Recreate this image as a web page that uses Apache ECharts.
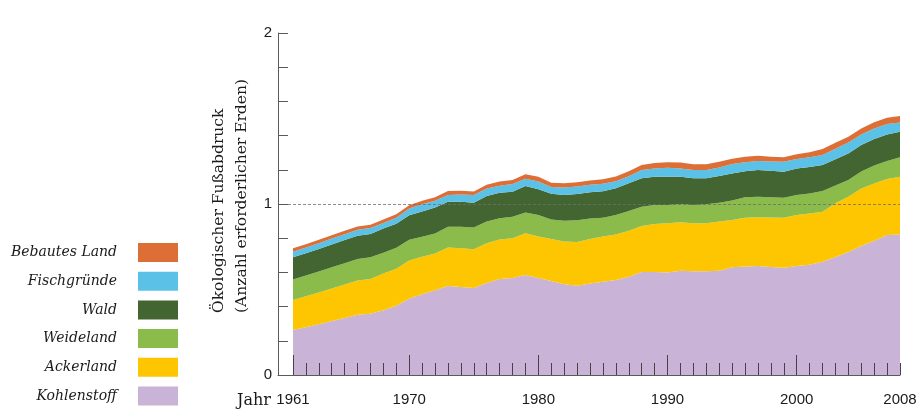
<!DOCTYPE html>
<html>
<head>
<meta charset="utf-8">
<script src="https://cdn.jsdelivr.net/npm/echarts@6/dist/echarts.min.js"></script>
<style>
  html, body { margin: 0; padding: 0; background: #fff; }
  #chart { width: 921px; height: 419px; }
</style>
</head>
<body>
<div id="chart"></div>
<script>
let years = [];
for (let y = 1961; y <= 2008; y++) years.push(y);

let tickYears = [1961, 1970, 1980, 1990, 2000, 2008];
let majorTickYears = [1961, 1970, 1980, 1990, 2000];
let yLabels = [0, 1, 2];

// Anzahl erforderlicher Erden, je Komponente (von unten nach oben)
let kohlenstoff = [0.263, 0.279, 0.297, 0.316, 0.334, 0.352, 0.358, 0.378, 0.405, 0.448,
                   0.472, 0.495, 0.520, 0.515, 0.509, 0.538, 0.561, 0.567, 0.585, 0.567,
                   0.550, 0.530, 0.522, 0.535, 0.545, 0.556, 0.575, 0.603, 0.602, 0.600,
                   0.610, 0.607, 0.607, 0.610, 0.630, 0.635, 0.637, 0.632, 0.627, 0.637,
                   0.645, 0.662, 0.690, 0.720, 0.755, 0.785, 0.818, 0.822];
let ackerland = [0.176, 0.181, 0.186, 0.190, 0.195, 0.200, 0.204, 0.216, 0.217, 0.222,
                 0.219, 0.215, 0.226, 0.226, 0.226, 0.232, 0.232, 0.232, 0.244, 0.243,
                 0.245, 0.250, 0.256, 0.260, 0.265, 0.266, 0.269, 0.268, 0.281, 0.287,
                 0.283, 0.280, 0.280, 0.287, 0.276, 0.285, 0.285, 0.289, 0.293, 0.299,
                 0.300, 0.293, 0.314, 0.323, 0.335, 0.335, 0.328, 0.338];
let weideland = [0.120, 0.122, 0.122, 0.124, 0.124, 0.126, 0.127, 0.121, 0.122, 0.121,
                 0.117, 0.117, 0.121, 0.126, 0.128, 0.127, 0.123, 0.127, 0.122, 0.126,
                 0.115, 0.122, 0.127, 0.120, 0.110, 0.114, 0.115, 0.113, 0.111, 0.107,
                 0.107, 0.107, 0.111, 0.111, 0.114, 0.119, 0.121, 0.119, 0.117, 0.117,
                 0.117, 0.121, 0.104, 0.097, 0.100, 0.105, 0.105, 0.113];
let wald = [0.129, 0.130, 0.132, 0.133, 0.136, 0.137, 0.136, 0.141, 0.141, 0.143,
            0.148, 0.152, 0.146, 0.146, 0.145, 0.150, 0.150, 0.146, 0.154, 0.150,
            0.150, 0.151, 0.153, 0.153, 0.155, 0.156, 0.162, 0.166, 0.166, 0.166,
            0.160, 0.156, 0.152, 0.156, 0.159, 0.153, 0.156, 0.155, 0.152, 0.155,
            0.154, 0.152, 0.154, 0.156, 0.155, 0.155, 0.156, 0.150];
let fischgruende = [0.033, 0.034, 0.034, 0.035, 0.034, 0.035, 0.034, 0.033, 0.035, 0.039,
                    0.042, 0.040, 0.040, 0.043, 0.044, 0.043, 0.041, 0.045, 0.043, 0.045,
                    0.040, 0.044, 0.044, 0.044, 0.043, 0.041, 0.042, 0.049, 0.048, 0.052,
                    0.048, 0.049, 0.049, 0.050, 0.055, 0.052, 0.052, 0.054, 0.058, 0.055,
                    0.057, 0.059, 0.061, 0.063, 0.062, 0.062, 0.061, 0.054];
let bebautesLand = [0.020, 0.019, 0.020, 0.019, 0.020, 0.019, 0.020, 0.020, 0.020, 0.020,
                    0.021, 0.021, 0.023, 0.022, 0.021, 0.022, 0.024, 0.024, 0.026, 0.028,
                    0.025, 0.025, 0.025, 0.026, 0.027, 0.028, 0.029, 0.029, 0.032, 0.032,
                    0.034, 0.033, 0.033, 0.033, 0.030, 0.033, 0.031, 0.028, 0.027, 0.028,
                    0.029, 0.034, 0.035, 0.035, 0.035, 0.036, 0.037, 0.038];

let layerNames = ['Kohlenstoff', 'Ackerland', 'Weideland', 'Wald', 'Fischgründe', 'Bebautes Land'];
let layerValues = [kohlenstoff, ackerland, weideland, wald, fischgruende, bebautesLand];
let layerColors = ['#c9b4d7', '#fdc600', '#8bbb4b', '#436532', '#5bc1e7', '#dd6e36'];

let chart = echarts.init(document.getElementById('chart'));

let serifFont = '"DejaVu Serif", "Liberation Serif", serif';
let sansFont = '"Liberation Sans", Arial, sans-serif';
let xMin = 1959.84;
let xMax = 2008;

// value first so the stack runs on the y dimension (x is a value axis too)
let seriesList = layerNames.map((name, i) => ({
    name: name,
    type: 'line',
    stack: 'total',
    color: layerColors[i],
    itemStyle: { color: layerColors[i] },
    lineStyle: { width: 0 },
    areaStyle: { color: layerColors[i], opacity: 1 },
    showSymbol: false,
    symbol: 'none',
    silent: true,
    encode: { x: 1, y: 0 },
    data: years.map((y, k) => [layerValues[i][k], y])
}));

seriesList[seriesList.length - 1].markLine = {
    silent: true,
    symbol: 'none',
    label: { show: false },
    lineStyle: { color: '#6e6e6e', type: [3, 2], width: 0.8 },
    data: [{ yAxis: 1 }]
};

let option = {
    animation: false,
    backgroundColor: '#fff',
    grid: { left: 278, right: 21, top: 33, bottom: 44, containLabel: false },
    legend: {
        orient: 'vertical',
        right: 743,
        top: 243,
        padding: 0,
        align: 'right',
        icon: 'rect',
        itemWidth: 40,
        itemHeight: 19,
        itemGap: 9.7,
        selectedMode: false,
        data: layerNames.slice().reverse(),
        textStyle: {
            fontFamily: serifFont,
            fontStyle: 'italic',
            fontSize: 14,
            color: '#1a1a1a',
            padding: [0, 16, 0, 0]
        }
    },
    xAxis: [
        {
            type: 'value',
            min: xMin,
            max: xMax,
            z: 10,
            axisLine: { show: true, lineStyle: { color: '#5a5a5a', width: 1 } },
            axisTick: {
                show: true, inside: true, length: 20,
                customValues: majorTickYears,
                lineStyle: { color: '#4a404c', width: 1 }
            },
            axisLabel: {
                customValues: tickYears,
                margin: 17,
                fontFamily: sansFont,
                fontSize: 15,
                color: '#1a1a1a',
                formatter: v => String(v)
            },
            splitLine: { show: false }
        },
        {
            type: 'value',
            min: xMin,
            max: xMax,
            position: 'bottom',
            z: 10,
            axisLine: { show: false },
            axisTick: {
                show: true, inside: true, length: 12,
                customValues: years,
                lineStyle: { color: '#4a404c', width: 1 }
            },
            axisLabel: { show: false },
            splitLine: { show: false }
        }
    ],
    yAxis: {
        type: 'value',
        min: 0,
        max: 2,
        interval: 0.2,
        z: 10,
        axisLine: { show: true, lineStyle: { color: '#5a5a5a', width: 1 } },
        axisTick: { show: true, inside: true, length: 10, lineStyle: { color: '#5a5a5a', width: 1 } },
        axisLabel: {
            customValues: yLabels,
            margin: 6,
            fontFamily: sansFont,
            fontSize: 15,
            color: '#1a1a1a'
        },
        splitLine: { show: false }
    },
    graphic: [
        {
            type: 'text',
            x: 237,
            y: 401,
            style: {
                text: 'Jahr',
                fontFamily: serifFont,
                fontSize: 16,
                fill: '#1a1a1a',
                align: 'left',
                verticalAlign: 'middle'
            }
        },
        {
            type: 'text',
            x: 207,
            y: 313,
            rotation: Math.PI / 2,
            style: {
                text: 'Ökologischer Fußabdruck\n(Anzahl erforderlicher Erden)',
                fontFamily: serifFont,
                fontSize: 15.5,
                lineHeight: 23,
                fill: '#1a1a1a',
                align: 'left',
                verticalAlign: 'top'
            }
        }
    ],
    series: seriesList
};

chart.setOption(option);
</script>
</body>
</html>
